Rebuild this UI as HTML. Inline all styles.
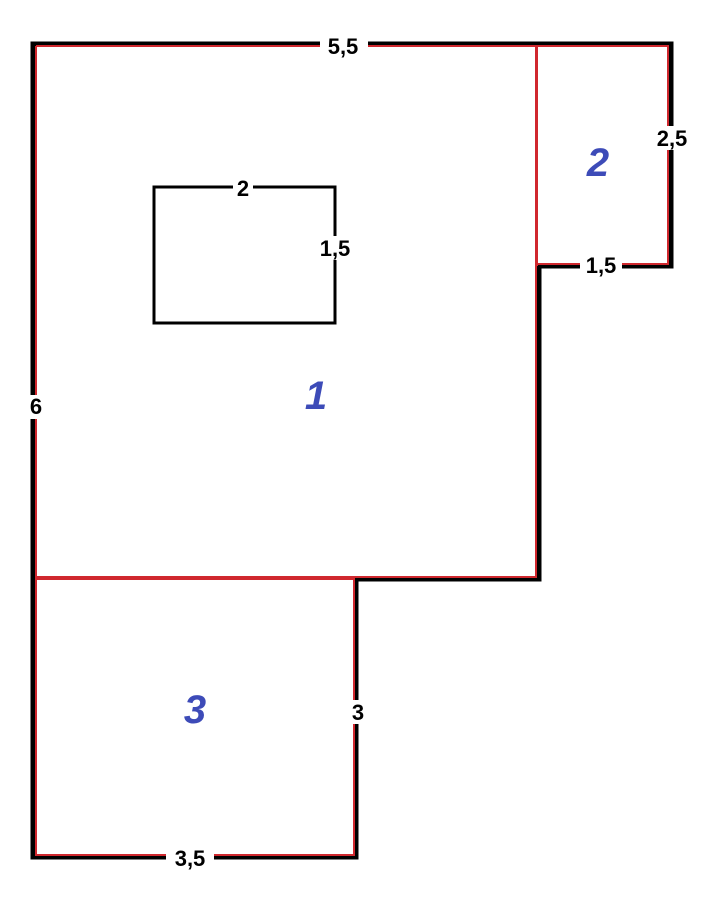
<!DOCTYPE html>
<html><head><style>body{margin:0;background:#fff}</style></head><body>
<svg width="720" height="901" xmlns="http://www.w3.org/2000/svg" style="display:block">
<g fill="none" stroke-linejoin="miter">
<path d="M33,44 H671 V266 H539 V579 H356 V857 H33 Z" stroke="#000" stroke-width="5"/>
<path d="M36,46 H668 V264 H537" stroke="#d0282e" stroke-width="2"/>
<path d="M536,46 V577 H354 V855 H36 V46" stroke="#d0282e" stroke-width="2"/>
<path d="M36,578 H354" stroke="#d0282e" stroke-width="4"/>
<path d="M537,46 V266" stroke="#d0282e" stroke-width="2"/>
<rect x="154" y="187" width="181" height="136" stroke="#000" stroke-width="3"/>
</g>
<g font-family="Liberation Sans, sans-serif" font-weight="bold" font-size="22" fill="#000" text-anchor="middle">
<rect x="320" y="34" width="48" height="22" fill="#fff"/><text x="343" y="54">5,5</text>
<rect x="652" y="126" width="42" height="24" fill="#fff"/><text x="672" y="146">2,5</text>
<rect x="580" y="254" width="42" height="22" fill="#fff"/><text x="601" y="273">1,5</text>
<rect x="233" y="178" width="20" height="20" fill="#fff"/><text x="243" y="196">2</text>
<rect x="314" y="236" width="42" height="24" fill="#fff"/><text x="335" y="256">1,5</text>
<rect x="26" y="395" width="20" height="24" fill="#fff"/><text x="36" y="414">6</text>
<rect x="348" y="700" width="20" height="24" fill="#fff"/><text x="358" y="720">3</text>
<rect x="166" y="846" width="48" height="22" fill="#fff"/><text x="190" y="866">3,5</text>
</g>
<g font-family="Liberation Sans, sans-serif" font-weight="bold" font-style="italic" font-size="40" fill="#3d4bb8" text-anchor="middle">
<text x="316" y="409">1</text>
<text x="598" y="176">2</text>
<text x="195" y="723">3</text>
</g>
</svg>
</body></html>
